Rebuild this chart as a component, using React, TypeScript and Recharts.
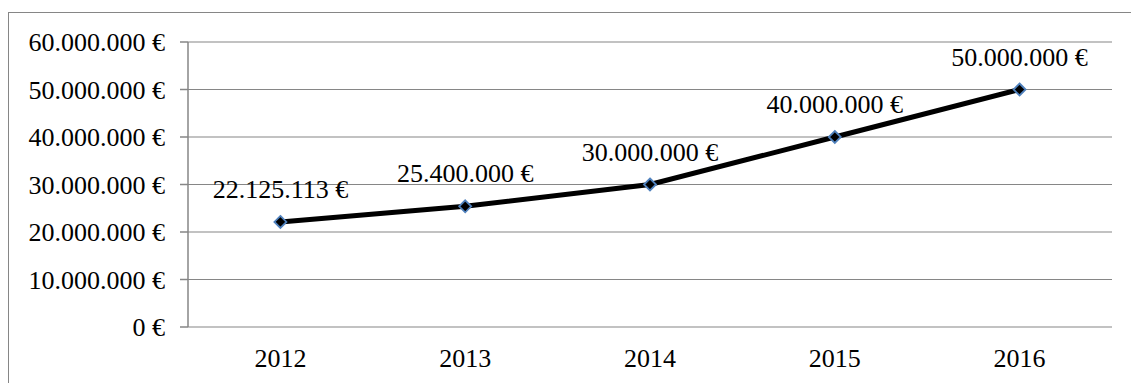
import React from "react";
import { LineChart, Line, XAxis, YAxis, CartesianGrid, LabelList } from "recharts";

const years = ["2012", "2013", "2014", "2015", "2016"];
const revenue = [22125113, 25400000, 30000000, 40000000, 50000000];
const yTicks = [0, 10000000, 20000000, 30000000, 40000000, 50000000, 60000000];
const labelTicks = [0, 1, 2, 3, 4];
const boundaryTicks = [-0.5, 0.5, 1.5, 2.5, 3.5, 4.5];

const data = years.map((y, i) => ({ idx: i, year: y, value: revenue[i] }));

const fmtEuro = (v: number) => {
  const s = Math.round(v).toString().replace(/\B(?=(\d{3})+(?!\d))/g, ".");
  return s + " €";
};

const FONT = "'Liberation Serif', 'Times New Roman', serif";
const GRAY = "#868686";

const Diamond = (props: any) => {
  const { cx, cy } = props;
  if (cx == null || cy == null) return null;
  const r = 6;
  return (
    <path
      d={`M${cx},${cy - r} L${cx + r},${cy} L${cx},${cy + r} L${cx - r},${cy} Z`}
      fill="#000"
      stroke="#4f81bd"
      strokeWidth={1.8}
    />
  );
};

export default function App() {
  return (
    <div style={{ position: "fixed", inset: 0, overflow: "hidden", background: "#fff" }}>
      <div
        style={{
          position: "absolute",
          left: 8,
          top: 12,
          width: 1300,
          height: 500,
          border: `1.5px solid ${GRAY}`,
          boxSizing: "border-box",
        }}
      />
      <div style={{ position: "absolute", left: 0, top: 0 }}>
        <LineChart
          width={1131}
          height={383}
          data={data}
          margin={{ top: 42, right: 19, bottom: 0, left: 0 }}
        >
          <CartesianGrid vertical={false} stroke={GRAY} strokeWidth={1.2} />
          <XAxis
            xAxisId="b"
            dataKey="idx"
            type="number"
            domain={[-0.5, 4.5]}
            ticks={boundaryTicks}
            tick={false}
            tickSize={6}
            tickLine={{ stroke: GRAY, strokeWidth: 1.5 }}
            axisLine={{ stroke: GRAY, strokeWidth: 1.5 }}
            height={0}
          />
          <XAxis
            xAxisId="a"
            dataKey="idx"
            type="number"
            domain={[-0.5, 4.5]}
            ticks={labelTicks}
            tickFormatter={(v: number) => years[v]}
            axisLine={false}
            tickLine={false}
            tickSize={0}
            tickMargin={22}
            height={56}
            tick={{ fill: "#000", fontFamily: FONT, fontSize: 26 }}
            interval={0}
          />
          <YAxis
            type="number"
            domain={[0, 60000000]}
            ticks={yTicks}
            tickFormatter={fmtEuro}
            width={188}
            tickSize={8}
            tickMargin={15}
            tickLine={{ stroke: GRAY, strokeWidth: 1.5 }}
            axisLine={{ stroke: GRAY, strokeWidth: 1.5 }}
            tick={{ fill: "#000", fontFamily: FONT, fontSize: 26 }}
            interval={0}
          />
          <Line
            xAxisId="a"
            dataKey="value"
            stroke="#000"
            strokeWidth={5}
            dot={<Diamond />}
            isAnimationActive={false}
          >
            <LabelList
              dataKey="value"
              position="top"
              offset={24}
              formatter={(v: any) => fmtEuro(Number(v))}
              style={{ fill: "#000", fontFamily: FONT, fontSize: 26 }}
            />
          </Line>
        </LineChart>
      </div>
    </div>
  );
}
